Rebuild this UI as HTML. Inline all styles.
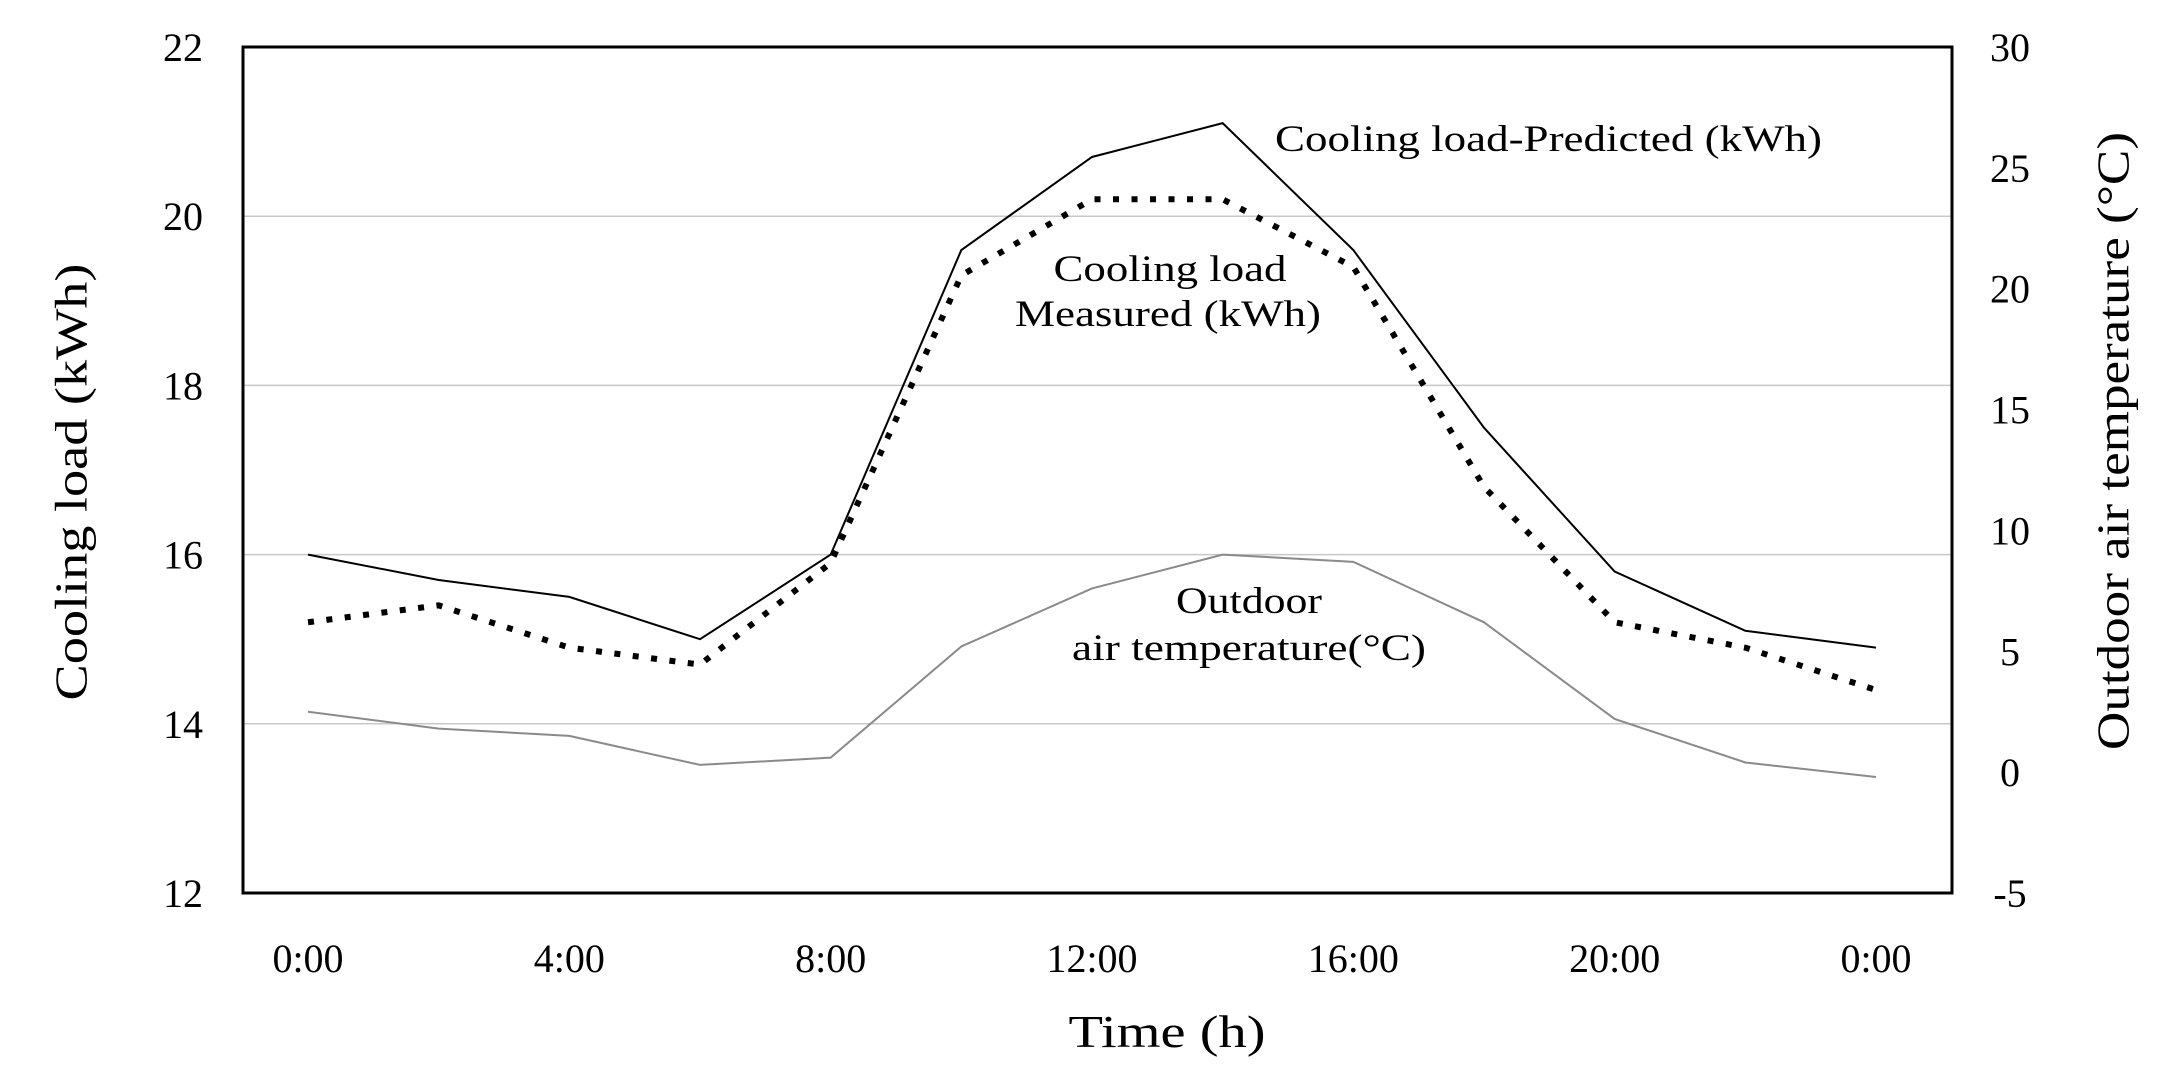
<!DOCTYPE html>
<html><head><meta charset="utf-8"><style>
html,body{margin:0;padding:0;background:#fff;}
svg{display:block;font-family:"Liberation Serif",serif;}
</style></head><body>
<svg id="chart" width="2178" height="1086" viewBox="0 0 2178 1086" xmlns="http://www.w3.org/2000/svg">
<g id="grid"></g>
<g id="series"></g>
<rect x="243" y="47" width="1709" height="846" fill="none" stroke="#000" stroke-width="3"/>
<g id="ticks" font-size="40"></g>
<text x="1167" y="1047" font-size="46" text-anchor="middle" textLength="197" lengthAdjust="spacingAndGlyphs">Time  (h)</text>
<text transform="translate(76,482) rotate(-90)" font-size="46" text-anchor="middle" dominant-baseline="middle" textLength="437" lengthAdjust="spacingAndGlyphs">Cooling load (kWh)</text>
<text transform="translate(2118,441) rotate(-90)" font-size="46" text-anchor="middle" dominant-baseline="middle" textLength="618" lengthAdjust="spacingAndGlyphs">Outdoor air temperature (°C)</text>
<g font-size="37">
<text x="1275" y="151" textLength="547" lengthAdjust="spacingAndGlyphs">Cooling  load-Predicted (kWh)</text>
<text x="1170" y="281" text-anchor="middle" textLength="233" lengthAdjust="spacingAndGlyphs">Cooling  load</text>
<text x="1168" y="326" text-anchor="middle" textLength="306" lengthAdjust="spacingAndGlyphs">Measured (kWh)</text>
<text x="1249" y="613" text-anchor="middle" textLength="146" lengthAdjust="spacingAndGlyphs">Outdoor</text>
<text x="1249" y="660" text-anchor="middle" textLength="354" lengthAdjust="spacingAndGlyphs">air temperature(°C)</text>
</g>
</svg>
<script>
const hours = [0,2,4,6,8,10,12,14,16,18,20,22,24];
const xTickLabels = ["0:00","4:00","8:00","12:00","16:00","20:00","0:00"];
const xTickHours = [0,4,8,12,16,20,24];
const predicted = [16.0,15.7,15.5,15.0,16.0,19.6,20.7,21.1,19.6,17.5,15.8,15.1,14.9];
const measured = [15.2,15.4,14.9,14.7,15.9,19.3,20.2,20.2,19.4,16.8,15.2,14.9,14.4];
const temperature = [2.5,1.8,1.5,0.3,0.6,5.2,7.6,9.0,8.7,6.2,2.2,0.4,-0.2];
const leftTicks = [12,14,16,18,20,22];
const rightTicks = [-5,0,5,10,15,20,25,30];

const NS="http://www.w3.org/2000/svg";
const X0=243,X1=1952,Y0=893,Y1=47;
const xs=h=>308+(h/24)*(1876-308);
const yl=v=>Y0-(v-12)/10*(Y0-Y1);
const yr=v=>Y0-(v+5)/35*(Y0-Y1);
function mk(tag,attrs,parent){const e=document.createElementNS(NS,tag);for(const k in attrs)e.setAttribute(k,attrs[k]);parent.appendChild(e);return e;}
const grid=document.getElementById('grid'),series=document.getElementById('series'),ticks=document.getElementById('ticks');
leftTicks.forEach(v=>{
  if(v>12&&v<22){const l=mk('line',{x1:X0,x2:X1,y1:yl(v),y2:yl(v),stroke:'#c8c8c8','stroke-width':1.5},grid);
  
  }
  const t=mk('text',{x:203,y:yl(v)+14,'text-anchor':'end'},ticks);t.textContent=v;
  
  
});
rightTicks.forEach(v=>{
  const t=mk('text',{x:2010,y:yr(v)+14,'text-anchor':'middle'},ticks);t.textContent=v;
  
  
});
xTickHours.forEach((h,i)=>{
  const t=mk('text',{x:xs(h),y:972,'text-anchor':'middle'},ticks);t.textContent=xTickLabels[i];
  
  
});
const pts=(arr,f)=>arr.map((v,i)=>xs(hours[i])+','+f(v)).join(' ');
const tl=mk('polyline',{points:pts(temperature,yr),fill:'none',stroke:'#8a8a8a','stroke-width':2},series);


const pl=mk('polyline',{points:pts(predicted,yl),fill:'none',stroke:'#000','stroke-width':2},series);


const ml=mk('polyline',{points:pts(measured,yl),fill:'none',stroke:'#000','stroke-width':6,'stroke-dasharray':'6 12.5'},series);


</script>
</body></html>
